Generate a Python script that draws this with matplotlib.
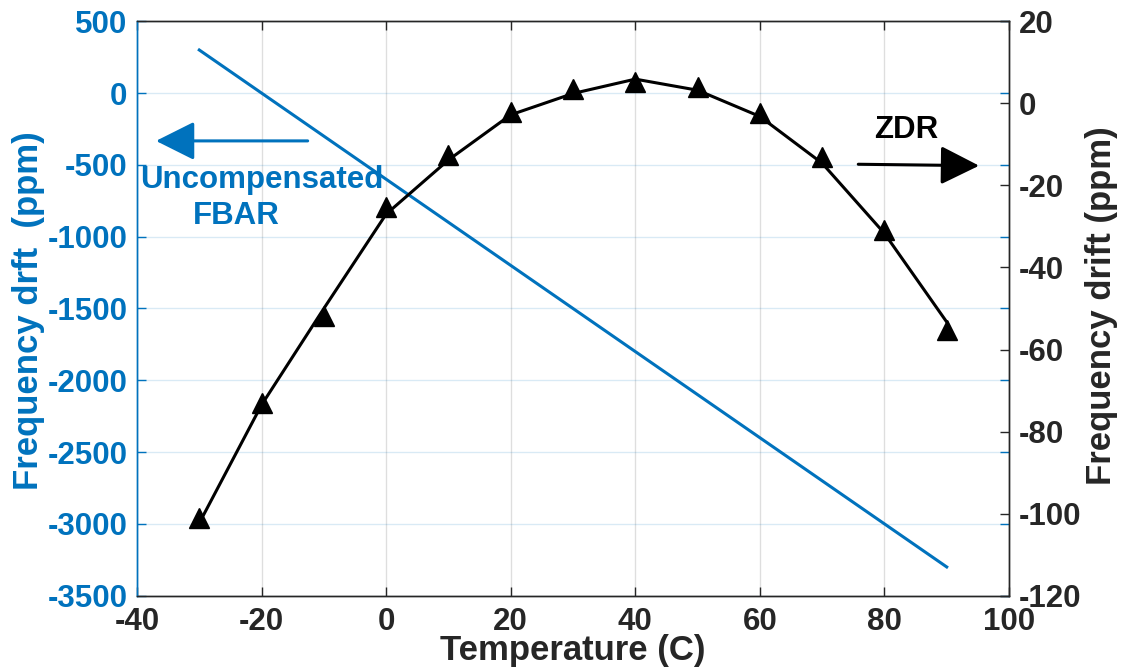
import matplotlib
matplotlib.use("Agg")
import matplotlib.pyplot as plt

plt.rcParams['font.family'] = ['Liberation Sans', 'DejaVu Sans']
plt.rcParams['font.weight'] = 'bold'
plt.rcParams['axes.unicode_minus'] = False

# ---- data ----
temperature = [-30, -20, -10, 0, 10, 20, 30, 40, 50, 60, 70, 80, 90]
fbar_drift = [300, 0, -300, -600, -900, -1200, -1500, -1800, -2100, -2400, -2700, -3000, -3300]
zdr_markers = [-101.1, -73.0, -51.8, -25.2, -12.6, -2.0, 3.4, 5.3, 3.9, -2.3, -13.1, -30.9, -55.3]
zdr_curve = [-102.3, -73.5, -50.0, -27.0, -13.8, -2.8, 2.4, 5.9, 3.2, -3.2, -14.6, -31.7, -53.3]

x_ticks = [-40, -20, 0, 20, 40, 60, 80, 100]
left_ticks = [500, 0, -500, -1000, -1500, -2000, -2500, -3000, -3500]
right_ticks = [20, 0, -20, -40, -60, -80, -100, -120]

BLUE = '#0072BD'
DARK = '#262626'
TICK_FS = 22.5
LABEL_FS = 25

fig = plt.figure(figsize=(11.22, 6.69), dpi=100)
ax = fig.add_axes([0.1221, 0.1096, 0.7772, 0.8586])
ax2 = ax.twinx()

# left axis: uncompensated FBAR
ax.plot(temperature, fbar_drift, color=BLUE, lw=2.2, zorder=3)
ax.set_xlim(-40, 100)
ax.set_ylim(-3500, 500)
ax.set_xticks(x_ticks)
ax.set_yticks(left_ticks)
ax.grid(axis='x', color=DARK, alpha=0.15, lw=1.0)
ax.grid(axis='y', color=BLUE, alpha=0.15, lw=1.0)
ax.set_axisbelow(True)

ax.yaxis.set_ticks_position('both')
ax.tick_params(axis='y', which='both', direction='in', length=6.5, width=1.0,
               colors=BLUE, labelsize=TICK_FS, labelright=False, pad=7)
ax.tick_params(axis='x', which='both', direction='in', length=6.5, width=1.0,
               colors=DARK, labelsize=TICK_FS, top=True, pad=8)

# right axis: ZDR
ax2.plot(temperature, zdr_curve, color='black', lw=2.2, zorder=3)
ax2.plot(temperature, zdr_markers, linestyle='none', marker='^', ms=14.5,
         color='black', zorder=4)
ax2.set_ylim(-120, 20)
ax2.set_yticks(right_ticks)
ax2.tick_params(axis='y', direction='in', length=6.5, width=1.0, colors=DARK,
                labelsize=TICK_FS, pad=7)

for a in (ax, ax2):
    a.spines['top'].set_color(DARK)
    a.spines['bottom'].set_color(DARK)
    a.spines['left'].set_color(BLUE)
    a.spines['right'].set_color(DARK)
    for s in a.spines.values():
        s.set_linewidth(1.0)

# labels
ax.set_xlabel('Temperature (C)', fontsize=LABEL_FS, fontweight='bold', color=DARK, labelpad=-2)
ax.set_ylabel('Frequency drft  (ppm)', fontsize=LABEL_FS, fontweight='bold', color=BLUE)
ax.yaxis.label.set_verticalalignment('center')
ax.yaxis.set_label_coords(-0.124, 0.497)
ax2.set_ylabel('Frequency drift (ppm)', fontsize=LABEL_FS, fontweight='bold', color=DARK,
               rotation=90)
ax2.yaxis.label.set_verticalalignment('center')
ax2.yaxis.set_label_coords(1.1055, 0.505)

# annotations
ax.annotate('', xy=(-36.95, -333), xytext=(-12.6, -333),
            arrowprops=dict(arrowstyle='-|>,head_length=2.4,head_width=1.2',
                            mutation_scale=10, color=BLUE, lw=2.2,
                            shrinkA=0, shrinkB=0))
ax.text(-39.5, -500, 'Uncompensated', color=BLUE, fontsize=TICK_FS,
        fontweight='bold', ha='left', va='top')
ax.text(-31.0, -750, 'FBAR', color=BLUE, fontsize=TICK_FS,
        fontweight='bold', ha='left', va='top')

ax2.annotate('', xy=(95.2, -15.2), xytext=(75.8, -14.85),
             arrowprops=dict(arrowstyle='-|>,head_length=2.4,head_width=1.2',
                             mutation_scale=10, color='black', lw=2.2,
                             shrinkA=0, shrinkB=0))
ax2.text(83.5, -6.5, 'ZDR', color='black', fontsize=TICK_FS, fontweight='bold',
         ha='center', va='center')

fig.savefig('out.png', dpi=100)
